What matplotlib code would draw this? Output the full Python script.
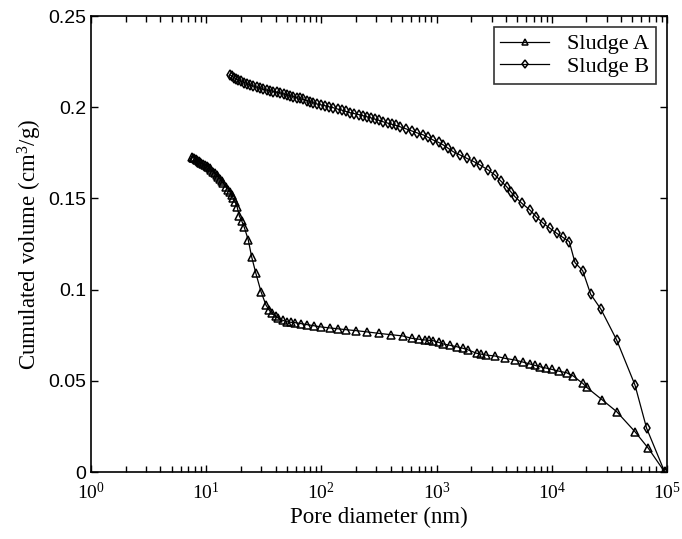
import matplotlib
matplotlib.use("Agg")
import matplotlib.pyplot as plt
from matplotlib.ticker import FixedLocator, LogLocator, NullFormatter

plt.rcParams["font.family"] = "Liberation Serif"
plt.rcParams["mathtext.fontset"] = "custom"
plt.rcParams["mathtext.rm"] = "Liberation Serif"
plt.rcParams["mathtext.it"] = "Liberation Serif:italic"

# pore diameter (nm) and cumulated volume (cm3/g)
diam_a = [7.5, 7.7, 7.9, 8.1, 8.3, 8.6, 8.8, 9.1, 9.4, 9.7, 10.1, 10.4, 10.8,
          11.1, 11.5, 11.9, 12.3, 12.7, 13.2, 13.6, 14.1, 14.8, 15.6, 16.1,
          16.6, 17.2, 17.8, 18.6, 19.4, 20.4, 21.4, 23.2, 24.8, 27.0, 29.9,
          33.0, 35.0, 37.0, 40.0, 42.3, 46.0, 50.0, 54.0, 59.0, 66.0, 75.0,
          86.0, 100, 118, 140, 165, 200, 250, 316, 400, 508, 608, 700, 792,
          860, 935, 1040, 1143, 1300, 1493, 1700, 1884, 2228, 2450, 2685, 3214,
          3926, 4797, 5600, 6471, 7100, 7907, 8900, 9977, 11500, 13460, 15380,
          18535, 20090, 27480, 36560, 52720, 68870, 95500]
vol_a = [0.1729, 0.1724, 0.1720, 0.1715, 0.1710, 0.1705, 0.1700, 0.1695, 0.1690,
         0.1684, 0.1678, 0.1672, 0.1665, 0.1656, 0.1647, 0.1638, 0.1628, 0.1617,
         0.1606, 0.1595, 0.1583, 0.1565, 0.1546, 0.1533, 0.1519, 0.1500, 0.1482,
         0.1451, 0.1404, 0.1375, 0.1342, 0.1272, 0.1180, 0.1089, 0.0989, 0.0916,
         0.0890, 0.0870, 0.0855, 0.0843, 0.0832, 0.0824, 0.0821, 0.0819, 0.0814,
         0.0808, 0.0802, 0.0795, 0.0790, 0.0785, 0.0780, 0.0775, 0.0768, 0.0760,
         0.0753, 0.0746, 0.0733, 0.0728, 0.0724, 0.0722, 0.0720, 0.0711, 0.0702,
         0.0695, 0.0687, 0.0678, 0.0669, 0.0651, 0.0646, 0.0641, 0.0636, 0.0623,
         0.0614, 0.0603, 0.0592, 0.0585, 0.0577, 0.0570, 0.0563, 0.0553, 0.0544,
         0.0526, 0.0486, 0.0464, 0.0395, 0.0331, 0.0221, 0.0130, 0.0]

diam_b = [16.1, 16.8, 17.5, 18.2, 19.0, 20.2, 21.5, 22.7, 24.0, 25.7, 27.5,
          29.3, 31.3, 33.6, 36.0, 38.4, 40.9, 44.0, 47.0, 50.0, 53.3, 57.0,
          61.0, 65.0, 69.7, 75.0, 80.0, 85.0, 91.0, 99.0, 108, 117, 127, 138,
          150, 163, 177, 193, 210, 228, 247, 268, 290, 316, 344, 376, 410, 445,
          481, 540, 608, 680, 767, 850, 935, 1040, 1143, 1260, 1396, 1600, 1824,
          2100, 2382, 2800, 3214, 3600, 4055, 4400, 4797, 5500, 6471, 7300,
          8433, 9600, 11015, 12500, 14190, 15890, 18535, 21780, 26730, 36560,
          52720, 66530, 95500]
vol_b = [0.2177, 0.2170, 0.2162, 0.2155, 0.2149, 0.2142, 0.2135, 0.2128, 0.2122,
         0.2116, 0.2110, 0.2104, 0.2098, 0.2094, 0.2090, 0.2086, 0.2082, 0.2078,
         0.2073, 0.2068, 0.2063, 0.2058, 0.2053, 0.2048, 0.2043, 0.2036, 0.2030,
         0.2024, 0.2018, 0.2013, 0.2008, 0.2002, 0.1997, 0.1990, 0.1984, 0.1977,
         0.1970, 0.1965, 0.1960, 0.1954, 0.1948, 0.1942, 0.1935, 0.1928, 0.1920,
         0.1913, 0.1906, 0.1900, 0.1893, 0.1882, 0.1870, 0.1859, 0.1848, 0.1834,
         0.1820, 0.1807, 0.1793, 0.1775, 0.1756, 0.1738, 0.1720, 0.1702, 0.1683,
         0.1656, 0.1628, 0.1596, 0.1564, 0.1537, 0.1509, 0.1473, 0.1436, 0.1400,
         0.1364, 0.1337, 0.1309, 0.1286, 0.1263, 0.1148, 0.1104, 0.0974, 0.0892,
         0.0724, 0.0477, 0.0240, 0.0]

xtick_vals = [1, 10, 100, 1000, 10000, 100000]
xtick_labels = ["$10^{0}$", "$10^{1}$", "$10^{2}$", "$10^{3}$", "$10^{4}$", "$10^{5}$"]
ytick_vals = [0, 0.05, 0.1, 0.15, 0.2, 0.25]
ytick_labels = ["0", "0.05", "0.1", "0.15", "0.2", "0.25"]

fig = plt.figure(figsize=(6.82, 5.39), dpi=100)
ax = fig.add_axes([0.1334, 0.1243, 0.8446, 0.8460])

ax.plot(diam_a, vol_a, color="black", lw=0.9, marker="^", ms=5.5,
        mfc="none", mec="black", mew=1.1, label="Sludge A")
ax.plot(diam_b, vol_b, color="black", lw=0.9, marker="d", ms=5.5,
        mfc="none", mec="black", mew=1.1, label="Sludge B")

ax.set_xscale("log")
ax.set_xlim(1, 1e5)
ax.set_ylim(0, 0.25)
ax.xaxis.set_major_locator(FixedLocator(xtick_vals))
ax.set_xticklabels(xtick_labels)
ax.xaxis.set_minor_locator(LogLocator(base=10, subs=range(2, 10)))
ax.xaxis.set_minor_formatter(NullFormatter())
ax.set_yticks(ytick_vals)
ax.set_yticklabels(ytick_labels, family="Liberation Sans")

ax.tick_params(which="both", direction="in", top=True, right=True,
               labelsize=14, width=1)
ax.tick_params(which="major", length=5)
ax.tick_params(which="minor", length=4)
ax.tick_params(axis="x", pad=7)
for s in ax.spines.values():
    s.set_linewidth(1.2)

ax.set_xlabel("Pore diameter (nm)", fontsize=16.5, labelpad=3)
ax.set_ylabel("Cumulated volume (cm$^3$/g)", fontsize=16.5, labelpad=3)

leg = ax.legend(loc="upper right", fontsize=16, frameon=True, fancybox=False,
                edgecolor="black", handlelength=2.2, borderpad=0.3,
                labelspacing=0.1, borderaxespad=0.5, markerscale=0.8)
leg.get_frame().set_linewidth(1.2)

fig.savefig("out.png", dpi=100)
